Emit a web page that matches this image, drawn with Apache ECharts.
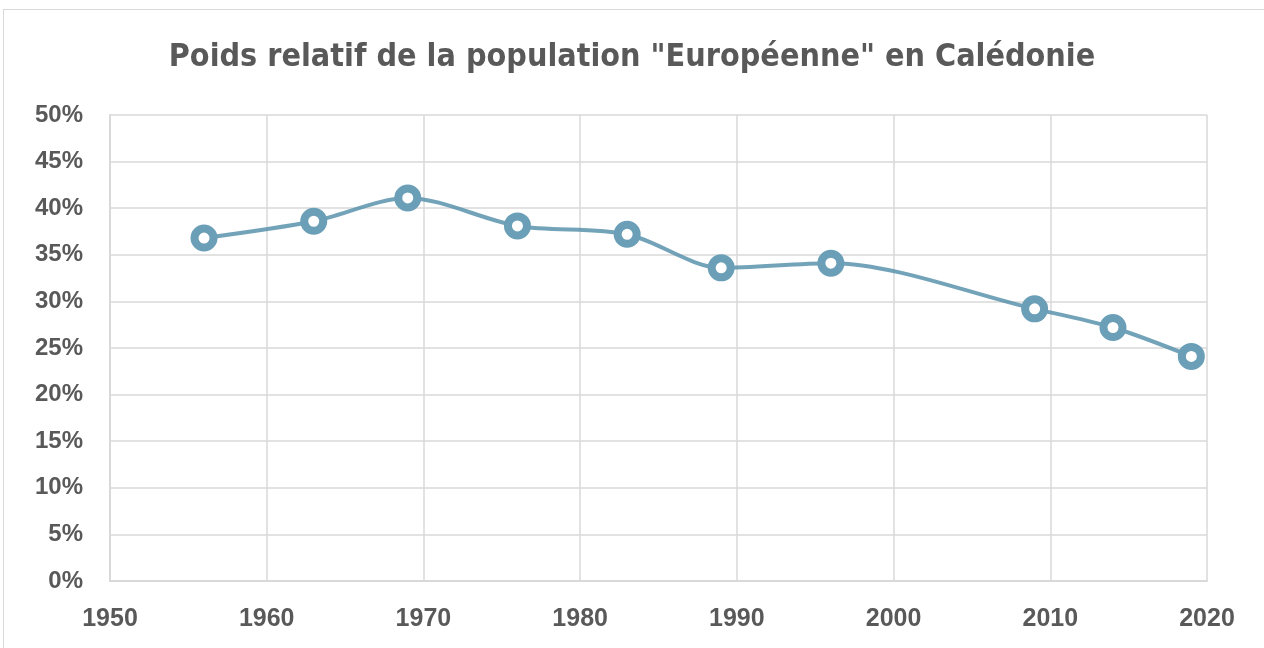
<!DOCTYPE html>
<html>
<head>
<meta charset="utf-8">
<script src="https://cdn.jsdelivr.net/npm/echarts@6/dist/echarts.min.js"></script>
<style>
  html, body { margin: 0; padding: 0; background: #fff; }
  #frame { position: absolute; left: 3px; top: 9px; width: 1300px; height: 700px; border: 1px solid #d9d9d9; }
  #chart { position: absolute; left: 0; top: 0; width: 1264px; height: 648px; }
</style>
</head>
<body>
<div id="frame"></div>
<div id="chart"></div>
<script>
var years = [1956, 1963, 1969, 1976, 1983, 1989, 1996, 2009, 2014, 2019];
var shares = [36.8, 38.6, 41.1, 38.1, 37.2, 33.6, 34.1, 29.2, 27.2, 24.1];
var xTicks = [1950, 1960, 1970, 1980, 1990, 2000, 2010, 2020];
var yTicks = [0, 5, 10, 15, 20, 25, 30, 35, 40, 45, 50];

var chart = echarts.init(document.getElementById('chart'));

var labelFont = {
    color: '#595959',
    fontFamily: 'Liberation Sans, Arial, sans-serif',
    fontWeight: 'bold',
    fontSize: 25
};

var option = {
    animation: false,
    title: {
        text: 'Poids relatif de la population "Européenne" en Calédonie',
        left: 'center',
        top: 37,
        textStyle: {
            color: '#595959',
            fontFamily: 'DejaVu Sans Condensed, Liberation Sans, sans-serif',
            fontWeight: 'bold',
            fontSize: 32
        }
    },
    grid: { left: 110, right: 57, top: 115, bottom: 67, containLabel: false },
    xAxis: {
        type: 'value',
        min: xTicks[0],
        max: xTicks[xTicks.length - 1],
        interval: 10,
        axisLine: { show: true, lineStyle: { color: '#d9d9d9', width: 2 } },
        axisTick: { show: false },
        splitLine: { show: true, lineStyle: { color: '#d9d9d9', width: 1.5 } },
        axisLabel: Object.assign({ margin: 26, formatter: function (v) { return String(v); } }, labelFont)
    },
    yAxis: {
        type: 'value',
        min: yTicks[0],
        max: yTicks[yTicks.length - 1],
        interval: 5,
        axisLine: { show: true, lineStyle: { color: '#d9d9d9', width: 2 } },
        axisTick: { show: false },
        splitLine: { show: true, lineStyle: { color: '#d9d9d9', width: 1.5 } },
        axisLabel: Object.assign({ margin: 27, formatter: '{value}%' }, labelFont, { fontSize: 24 })
    },
    series: [{
        type: 'line',
        smooth: 0.3,
        data: years.map(function (y, i) { return [y, shares[i]]; }),
        symbol: 'circle',
        symbolSize: 19,
        showAllSymbol: true,
        lineStyle: { color: '#5b93ad', width: 4, opacity: 0.85 },
        itemStyle: { color: '#ffffff', borderColor: '#6b9fb7', borderWidth: 8 }
    }]
};

chart.setOption(option);
</script>
</body>
</html>
